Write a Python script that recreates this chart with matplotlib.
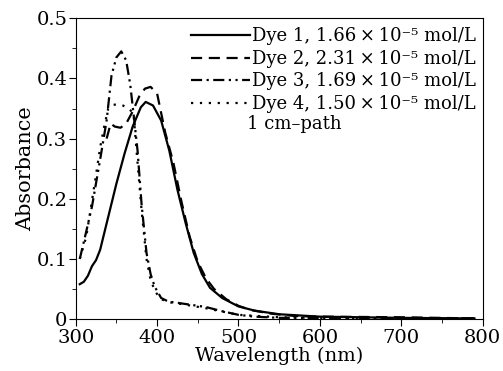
import matplotlib
matplotlib.use("Agg")
import matplotlib.pyplot as plt
from matplotlib.ticker import MultipleLocator, FixedLocator

plt.rcParams["font.family"] = "DejaVu Serif"

# Dye 1 (solid)
wl_dye1 = [305, 310, 315, 320, 325, 330, 340, 350, 360, 370, 380, 386, 395,
           405, 415, 425, 435, 445, 455, 465, 480, 500, 520, 550, 600, 700, 790]
abs_dye1 = [0.058, 0.062, 0.072, 0.088, 0.098, 0.115, 0.17, 0.225, 0.275, 0.32,
            0.352, 0.361, 0.355, 0.33, 0.28, 0.215, 0.16, 0.11, 0.075, 0.052,
            0.035, 0.021, 0.014, 0.008, 0.004, 0.002, 0.001]

# Dye 2 (dashed)
wl_dye2 = [338, 343, 348, 355, 362, 370, 378, 385, 392, 400, 410, 420, 430,
           440, 450, 460, 470, 485, 500, 515, 540, 570, 600, 700, 790]
abs_dye2 = [0.30, 0.325, 0.32, 0.318, 0.325, 0.345, 0.37, 0.383, 0.386, 0.375,
            0.31, 0.26, 0.195, 0.137, 0.095, 0.068, 0.05, 0.033, 0.022, 0.015,
            0.009, 0.005, 0.004, 0.003, 0.001]

# Dye 3 (dash-dot)
wl_dye3 = [305, 312, 320, 330, 338, 344, 350, 356, 362, 367, 372, 376, 381,
           387, 392, 397, 405, 414, 425, 440, 460, 480, 500, 520, 550, 600,
           700, 790]
abs_dye3 = [0.10, 0.14, 0.187, 0.265, 0.33, 0.405, 0.435, 0.445, 0.43, 0.39,
            0.33, 0.28, 0.19, 0.11, 0.075, 0.054, 0.035, 0.029, 0.027, 0.024,
            0.02, 0.013, 0.007, 0.004, 0.002, 0.002, 0.001, 0.001]

# Dye 4 (dotted)
wl_dye4 = [305, 313, 318, 324, 330, 335, 340, 345, 352, 358, 365, 371, 375,
           381, 387, 392, 398, 405, 415, 430, 460, 500, 550, 600, 700, 790]
abs_dye4 = [0.10, 0.137, 0.18, 0.231, 0.285, 0.32, 0.35, 0.356, 0.357, 0.355,
            0.35, 0.342, 0.276, 0.18, 0.1, 0.065, 0.045, 0.033, 0.028, 0.025,
            0.018, 0.007, 0.003, 0.002, 0.001, 0.001]

labels = [
    "Dye 1, 1.66\u2009\u00d7\u200910\u207b\u2075 mol/L",
    "Dye 2, 2.31\u2009\u00d7\u200910\u207b\u2075 mol/L",
    "Dye 3, 1.69\u2009\u00d7\u200910\u207b\u2075 mol/L",
    "Dye 4, 1.50\u2009\u00d7\u200910\u207b\u2075 mol/L",
]

fig = plt.figure(figsize=(5.03, 3.71), dpi=100)
ax = fig.add_axes([0.1505, 0.140, 0.809, 0.8107])

ax.plot(wl_dye1, abs_dye1, color="black", lw=1.6, linestyle="-", label=labels[0])
ax.plot(wl_dye2, abs_dye2, color="black", lw=1.6, linestyle=(0, (5, 3)), label=labels[1])
ax.plot(wl_dye3, abs_dye3, color="black", lw=1.6,
        linestyle=(0, (5, 2, 1, 2, 5, 2, 1, 2, 1, 2)), label=labels[2])
ax.plot(wl_dye4, abs_dye4, color="black", lw=1.6, linestyle=(0, (1, 3)), label=labels[3])

ax.set_xlim(300, 800)
ax.set_ylim(0, 0.5)
ax.xaxis.set_major_locator(MultipleLocator(100))
ax.xaxis.set_minor_locator(MultipleLocator(50))
ax.yaxis.set_major_locator(FixedLocator([0, 0.1, 0.2, 0.3, 0.4, 0.5]))
ax.yaxis.set_minor_locator(MultipleLocator(0.05))
ax.set_yticklabels(["0", "0.1", "0.2", "0.3", "0.4", "0.5"])
ax.tick_params(which="major", direction="out", length=5, labelsize=14, pad=1)
ax.tick_params(axis="x", which="major", pad=2)
ax.tick_params(which="minor", direction="out", length=3)

ax.set_xlabel("Wavelength (nm)", fontsize=14, labelpad=0)
ax.set_ylabel("Absorbance", fontsize=15, labelpad=1)

ax.legend(loc="upper left", bbox_to_anchor=(0.283, 0.97), frameon=False,
          fontsize=13, handlelength=3.3, handletextpad=0.1, borderpad=0,
          borderaxespad=0, labelspacing=0.25)
ax.text(0.422, 0.648, "1 cm\u2013path", transform=ax.transAxes, fontsize=13,
        ha="left", va="center")

fig.savefig("out.png", dpi=100)
